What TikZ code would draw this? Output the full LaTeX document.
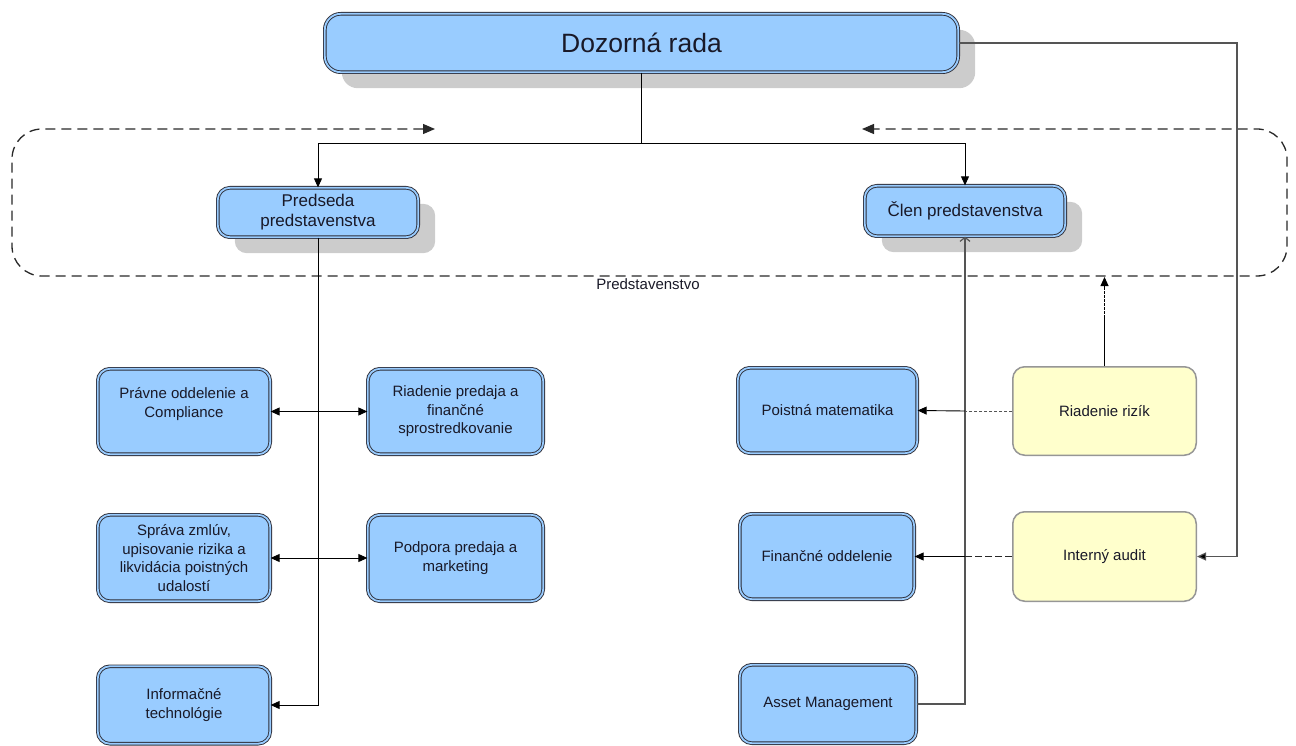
\documentclass[tikz,border=0pt]{standalone}
\usepackage{fontspec}
\setmainfont{Liberation Sans}
\usetikzlibrary{arrows.meta,shadows,calc}
\definecolor{bfill}{RGB}{153,204,255}
\definecolor{yfill}{RGB}{255,255,204}
\definecolor{ybord}{RGB}{150,150,150}
\definecolor{shad}{RGB}{204,204,204}
\definecolor{txt}{RGB}{25,25,40}
\definecolor{bord}{RGB}{45,45,55}
\definecolor{vline}{RGB}{85,85,85}
\definecolor{dline}{RGB}{40,40,40}
\begin{document}
\begin{tikzpicture}[x=1pt,y=-1pt,
  bbox/.style={rectangle, rounded corners=12pt, draw=bord, line width=0.9pt,
    double=bfill, double distance=1.8pt, fill=bfill, inner sep=0pt,
    align=center, text=txt, font=\fontsize{15}{18.5}\selectfont},
  ybox/.style={rectangle, rounded corners=12pt, draw=ybord, line width=1.5pt,
    fill=yfill, inner sep=0pt, align=center, text=txt,
    font=\fontsize{15}{18.5}\selectfont},
  shadowed/.style={general shadow={fill=shad, shadow xshift=17pt, shadow yshift=-16pt}},
  arr/.style={-{Triangle[length=9pt,width=8pt]}, line width=0.9pt, draw=black},
  darr/.style={{Triangle[length=9pt,width=8pt]}-{Triangle[length=9pt,width=8pt]}, line width=0.9pt, draw=black},
  frame/.style={draw=dline, line width=1.3pt, dash pattern=on 10pt off 6pt, rounded corners=30pt,
    {Triangle[length=12pt,width=10pt]}-{Triangle[length=12pt,width=10pt]}},
  graylink/.style={draw=vline, line width=1.2pt},
]
\useasboundingbox (0,0) rectangle (1296,746);

% group frame (Predstavenstvo)
\coordinate (fl) at (435,129);
\coordinate (fr) at (862,129);
\draw[frame] (fl) -- (12,129) -- (12,276) -- (1287,276) -- (1287,129) -- (fr);
\node[text=txt, font=\fontsize{15}{18}\selectfont] (lbl) at (648,284) {Predstavenstvo};

% top boxes
\node[bbox, shadowed, rounded corners=16pt, minimum width=633.4pt, minimum height=58.4pt,
  font=\fontsize{26.5}{30}\selectfont] (dr) at (641.5,43) {Dozorná rada};
\node[bbox, shadowed, minimum width=200.4pt, minimum height=49.4pt,
  font=\fontsize{17}{20}\selectfont] (pp) at (318,212.5) {Predseda\\predstavenstva};
\node[bbox, shadowed, minimum width=200.4pt, minimum height=50.4pt,
  font=\fontsize{17}{20}\selectfont] (cp) at (965,211) {Člen predstavenstva};

% left column
\node[bbox, minimum width=172.4pt, minimum height=85.4pt] (pr) at (184,411.5) {Právne oddelenie a\\Compliance\\\mbox{}};
\node[bbox, minimum width=175.4pt, minimum height=85.4pt] (rp) at (455.5,411.5) {Riadenie predaja a\\finančné\\sprostredkovanie};
\node[bbox, minimum width=172.4pt, minimum height=86.4pt] (sz) at (184,558) {Správa zmlúv,\\upisovanie rizika a\\likvidácia poistných\\udalostí};
\node[bbox, minimum width=175.4pt, minimum height=86.4pt] (po) at (455.5,558) {Podpora predaja a\\marketing};
\node[bbox, minimum width=172.4pt, minimum height=77.4pt] (it) at (184,705) {Informačné\\technológie};

% right column
\node[bbox, minimum width=179.4pt, minimum height=85.4pt] (pm) at (827.5,410.5) {Poistná matematika};
\node[bbox, minimum width=174.4pt, minimum height=85.4pt] (fo) at (827,556.5) {Finančné oddelenie};
\node[bbox, minimum width=176.4pt, minimum height=78.4pt] (am) at (828,704) {Asset Management};
\node[ybox, minimum width=183.5pt, minimum height=88.5pt] (rr) at (1104.5,411) {Riadenie rizík};
\node[ybox, minimum width=183.5pt, minimum height=89.5pt] (ia) at (1104.5,556.5) {Interný audit};

% connectors
\coordinate (t1) at (641.5,143);
\draw[line width=0.9pt] (dr.south) -- (t1);
\draw[arr] (t1) -| (pp.north);
\draw[arr] (t1) -| (cp.north);

\coordinate (c1) at (1237,43);
\draw[graylink, -{Triangle[length=9pt,width=8pt,fill=black]}] (dr.east) -- (c1) |- (ia.east);

\draw[arr] (pp.south) |- (it.east);
\draw[darr] (pr.east) -- (rp.west);
\draw[darr] (sz.east) -- (po.west);

\draw[graylink, -{Straight Barb[length=4pt,width=10pt]}] (am.east) -| (cp.south);

\coordinate (v1) at (cp.south |- rr.west);
\draw[draw=vline, line width=1pt, dash pattern=on 3pt off 2pt] (rr.west) -- (v1);
\draw[arr] (v1) -- (pm.east);

\coordinate (v2) at (cp.south |- ia.west);
\draw[draw=dline, line width=1pt, dash pattern=on 7pt off 3pt] (ia.west) -- (v2);
\draw[arr] (v2) -- (fo.east);

\coordinate (g1) at (1104.5,277);
\coordinate (g2) at (1104.5,318);
\draw[line width=0.9pt] (rr.north) -- (g2);
\draw[arr, dash pattern=on 3pt off 1pt] (g2) -- (g1);
\end{tikzpicture}
\end{document}
